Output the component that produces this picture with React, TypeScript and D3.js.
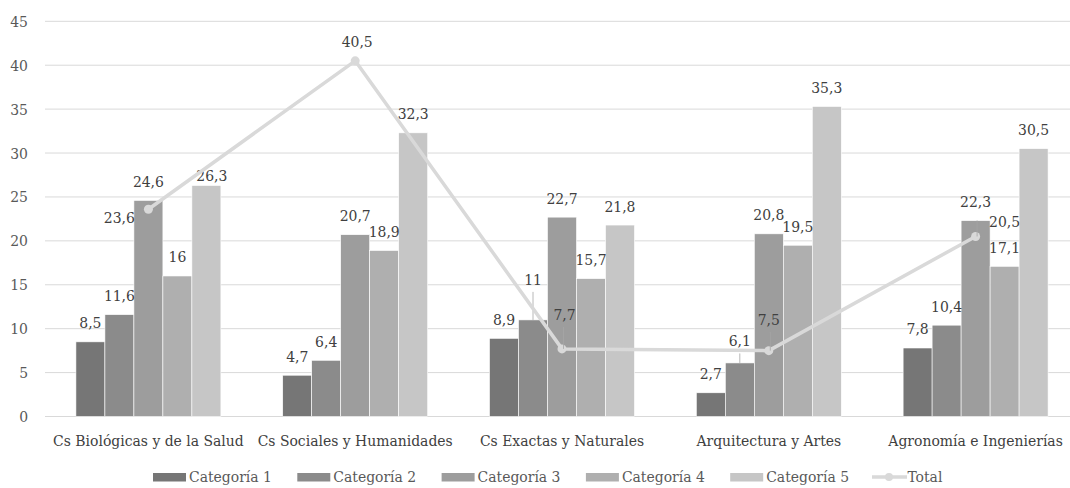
import React from "react";
import * as d3 from "d3";

const categories = [
  "Cs Biológicas y de la Salud",
  "Cs Sociales y Humanidades",
  "Cs Exactas y Naturales",
  "Arquitectura y Artes",
  "Agronomía e Ingenierías",
];
const seriesNames = ["Categoría 1", "Categoría 2", "Categoría 3", "Categoría 4", "Categoría 5"];
const cat1 = [8.5, 4.7, 8.9, 2.7, 7.8];
const cat2 = [11.6, 6.4, 11, 6.1, 10.4];
const cat3 = [24.6, 20.7, 22.7, 20.8, 22.3];
const cat4 = [16, 18.9, 15.7, 19.5, 17.1];
const cat5 = [26.3, 32.3, 21.8, 35.3, 30.5];
const total = [23.6, 40.5, 7.7, 7.5, 20.5];
const yTicks = [0, 5, 10, 15, 20, 25, 30, 35, 40, 45];

const barSeries = [cat1, cat2, cat3, cat4, cat5];
const barColors = ["#767676", "#8b8b8b", "#9d9d9d", "#afafaf", "#c6c6c6"];
const lineColor = "#d9d9d9";
const gridColor = "#d9d9d9";
const textDark = "#404040";
const textMid = "#595959";
const FONT = "DejaVu Serif Condensed, DejaVu Serif, serif";
const FS = 15.5;

const W = 1070;
const H = 488;

// label nudges for labels that would otherwise collide: [series, category] -> offsets
type Nudge = { dx?: number; dy?: number; leader?: boolean };
const barNudges: Record<string, Nudge> = {
  "4-0": { dx: 5.5, dy: 9 },
  "1-2": { dy: -21.5, leader: true },
  "1-3": { dy: -3, leader: true },
};
type TotalPlacement = { anchor: "start" | "middle" | "end"; dx: number; dy: number; leader?: boolean };
const totalPlacement: TotalPlacement[] = [
  { anchor: "end", dx: -13.5, dy: 14 },
  { anchor: "middle", dx: 2, dy: -14 },
  { anchor: "middle", dx: 2.5, dy: -29, leader: true },
  { anchor: "middle", dx: 0, dy: -25.5, leader: true },
  { anchor: "start", dx: 13.5, dy: -9.5, leader: true },
];

const fmt = (v: number) => String(v).replace(".", ",");

export default function App() {
  const x0 = d3.scaleBand<string>().domain(categories).range([45, 1079]).paddingInner(0.299).paddingOuter(0.1495);
  const x1 = d3.scaleBand<number>().domain(d3.range(seriesNames.length)).range([0, x0.bandwidth()]);
  const y = d3.scaleLinear().domain([0, 45]).range([416.5, 21.3]);

  const center = (c: string) => (x0(c) as number) + x0.bandwidth() / 2;
  const linePath = d3
    .line<number>()
    .x((_, i) => center(categories[i]))
    .y((d) => y(d))(total) as string;

  const legendItems = [...seriesNames.map((n, i) => ({ name: n, color: barColors[i], line: false })), { name: "Total", color: lineColor, line: true }];

  return (
    <svg
      width={W}
      height={H}
      style={{ position: "absolute", left: 0, top: 0, background: "#fff" }}
    >
      <rect width={W} height={H} fill="#fff" />
      <g fontFamily={FONT}>
      {/* gridlines and y-axis labels */}
      {yTicks.map((t) => (
        <g key={t}>
          <line x1={45} x2={1079} y1={y(t)} y2={y(t)} stroke={gridColor} strokeWidth={1} />
          <text x={28} y={y(t) + 5.5} textAnchor="end" fontSize={FS} fill={textMid}>
            {t}
          </text>
        </g>
      ))}

      {/* bars */}
      {barSeries.map((vals, s) =>
        vals.map((v, c) => (
          <rect
            key={`b${s}-${c}`}
            x={(x0(categories[c]) as number) + (x1(s) as number)}
            y={y(v)}
            width={x1.bandwidth()}
            height={y(0) - y(v)}
            fill={barColors[s]}
            stroke="#ffffff"
            strokeWidth={0.6}
          />
        ))
      )}

      {/* bar value labels */}
      {barSeries.map((vals, s) =>
        vals.map((v, c) => {
          const n = barNudges[`${s}-${c}`] || {};
          const cx = (x0(categories[c]) as number) + (x1(s) as number) + x1.bandwidth() / 2;
          const by = y(v) - 13.5 + (n.dy || 0);
          return (
            <g key={`l${s}-${c}`}>
              {n.leader && (
                <line x1={cx} x2={cx} y1={by + 7} y2={y(v)} stroke="#a6a6a6" strokeWidth={0.8} />
              )}
              <text x={cx + (n.dx || 0)} y={by} textAnchor="middle" fontSize={FS} fill={textDark}>
                {fmt(v)}
              </text>
            </g>
          );
        })
      )}

      {/* total line */}
      <path d={linePath} fill="none" stroke={lineColor} strokeWidth={3.5} strokeLinejoin="round" />
      {total.map((v, i) => (
        <circle key={`p${i}`} cx={center(categories[i])} cy={y(v)} r={4.5} fill={lineColor} />
      ))}
      {total.map((v, i) => {
        const p = totalPlacement[i];
        const px = center(categories[i]);
        const py = y(v);
        return (
          <g key={`t${i}`}>
            {p.leader && i < 4 && (
              <line x1={px + 1.5} x2={px + 1.5} y1={py + p.dy + 7} y2={py} stroke="#a6a6a6" strokeWidth={0.8} />
            )}
            {p.leader && i === 4 && (
              <line x1={px + 1.5} x2={px + 1.5} y1={py - 16} y2={py} stroke="#a6a6a6" strokeWidth={0.8} />
            )}
            <text x={px + p.dx} y={py + p.dy} textAnchor={p.anchor} fontSize={FS} fill={textDark}>
              {fmt(v)}
            </text>
          </g>
        );
      })}

      {/* category labels */}
      {categories.map((c) => (
        <text key={c} x={center(c)} y={446} textAnchor="middle" fontSize={FS} fill={textDark}>
          {c}
        </text>
      ))}

      {/* legend */}
      {legendItems.map((it, i) => {
        const lx = 153 + i * 144.3;
        return (
          <g key={it.name}>
            {it.line ? (
              <g>
                <line x1={lx - 2.5} x2={lx + 32.5} y1={477} y2={477} stroke={lineColor} strokeWidth={3.5} />
                <circle cx={lx + 14.5} cy={477} r={4} fill={lineColor} />
              </g>
            ) : (
              <rect x={lx} y={473} width={33} height={8.5} fill={it.color} />
            )}
            <text x={it.line ? lx + 33 : lx + 36} y={482} fontSize={FS} fill={textMid}>
              {it.name}
            </text>
          </g>
        );
      })}
      </g>
    </svg>
  );
}
